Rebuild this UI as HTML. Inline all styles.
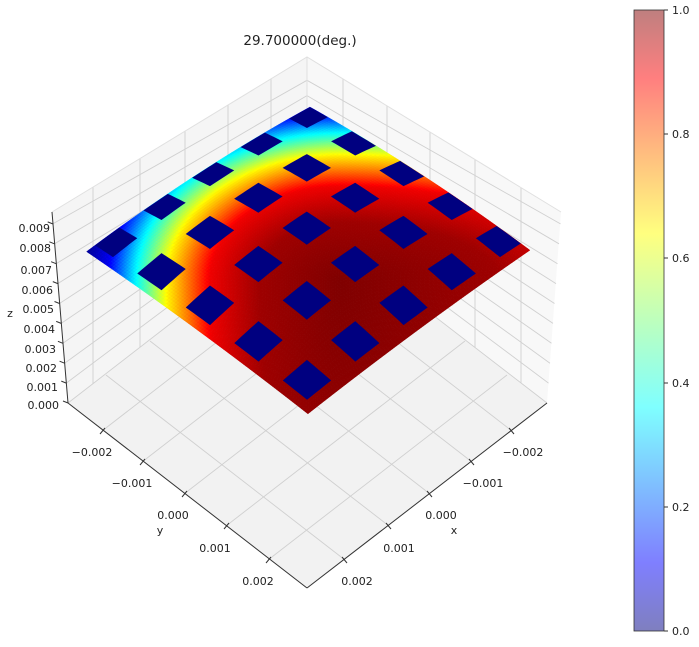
<!DOCTYPE html>
<html><head><meta charset="utf-8"><style>
html,body{margin:0;padding:0;background:#fff;}
svg{display:block;font-family:"DejaVu Sans","Liberation Sans",sans-serif;}
</style></head><body>
<svg id="s" width="699" height="647" viewBox="0 0 699 647" xmlns="http://www.w3.org/2000/svg">
<defs>
<linearGradient id="cb" x1="0" y1="1" x2="0" y2="0">
<stop offset="0" stop-color="#7f7fbf"/>
<stop offset="0.11" stop-color="#7f7fff"/>
<stop offset="0.36" stop-color="#7fffff"/>
<stop offset="0.5" stop-color="#bdffbd"/>
<stop offset="0.64" stop-color="#ffff7f"/>
<stop offset="0.89" stop-color="#ff7f7f"/>
<stop offset="1" stop-color="#bf7f7f"/>
</linearGradient>
</defs>
<polygon points="68,403 307,218 307,57 52,212" fill="#f5f5f5"/>
<polygon points="307,218 547,403 561,212 307,57" fill="#f8f8f8"/>
<polygon points="68,403 307,218 547,403 307,588" fill="#f2f2f2"/>
<g id="grid" stroke="#d0d0d0" stroke-width="0.9" fill="none"></g>
<polyline points="52,212 307,57 561,212" fill="none" stroke="#e0e0e0" stroke-width="1"/>
<line x1="307" y1="57" x2="307" y2="218" stroke="#e0e0e0"/>
<g id="surf"></g>
<g stroke="#333" stroke-width="1" fill="none">
<line x1="68" y1="403" x2="307" y2="588"/>
<line x1="307" y1="588" x2="547" y2="403"/>
<line x1="68" y1="403" x2="52" y2="212"/>
</g>
<g id="ticks" stroke="#333" stroke-width="1"></g>
<g font-size="11" fill="#222">
<text x="300" y="45" font-size="13.5" text-anchor="middle">29.700000(deg.)</text>
<g text-anchor="end">
<text x="50" y="232">0.009</text><text x="51" y="252">0.008</text><text x="52" y="274">0.007</text>
<text x="53" y="294">0.006</text><text x="54" y="313">0.005</text><text x="55" y="333">0.004</text>
<text x="56" y="353">0.003</text><text x="57" y="372">0.002</text><text x="58" y="391">0.001</text>
<text x="59" y="409">0.000</text>
</g>
<text x="10" y="317" text-anchor="middle">z</text>
<g text-anchor="middle">
<text x="92" y="456">−0.002</text><text x="132" y="487">−0.001</text><text x="173" y="519">0.000</text>
<text x="215" y="552">0.001</text><text x="258" y="585">0.002</text>
<text x="160" y="534">y</text>
<text x="523" y="456">−0.002</text><text x="483" y="487">−0.001</text><text x="441" y="519">0.000</text>
<text x="399" y="552">0.001</text><text x="357" y="585">0.002</text>
<text x="454" y="534">x</text>
</g>
</g>
<rect x="634" y="10" width="30" height="621" fill="url(#cb)" stroke="#333" stroke-width="0.8"/>
<g stroke="#333"><line x1="664" y1="10" x2="668" y2="10"/><line x1="664" y1="134" x2="668" y2="134"/><line x1="664" y1="258" x2="668" y2="258"/><line x1="664" y1="383" x2="668" y2="383"/><line x1="664" y1="507" x2="668" y2="507"/><line x1="664" y1="631" x2="668" y2="631"/></g>
<g font-size="11" fill="#222">
<text x="672" y="14">1.0</text><text x="672" y="138">0.8</text><text x="672" y="262">0.6</text>
<text x="672" y="387">0.4</text><text x="672" y="511">0.2</text><text x="672" y="635">0.0</text>
</g>
</svg>
<script>
var NS="http://www.w3.org/2000/svg";
function el(p,tag,a){var e=document.createElementNS(NS,tag);for(var k in a)e.setAttribute(k,a[k]);p.appendChild(e);return e;}
var g=document.getElementById('grid');
var yt=[[102,431],[142,462],[184,494],[226,526],[268,560]];
yt.forEach(function(p){el(g,'line',{x1:p[0],y1:p[1],x2:p[0]+239,y2:p[1]-185});});
var xt=[[512,431],[472,462],[430,494],[389,526],[345,560]];
xt.forEach(function(p){el(g,'line',{x1:p[0],y1:p[1],x2:p[0]-239,y2:p[1]-185});});
[93,140,185,228,271].forEach(function(x){el(g,'line',{x1:x,y1:403-(x-68)*0.774,x2:x,y2:212-(x-52)*0.608});});
[343,387,430,475,521].forEach(function(x){el(g,'line',{x1:x,y1:218+(x-307)*0.771,x2:x,y2:57+(x-307)*0.610});});
for(var k=0;k<=9;k++){
 var ly=403-19.9*k, lx=68-1.7*k, by=218-15.3*k, rx=547+1.5*k;
 el(g,'polyline',{points:lx+','+ly+' 307,'+by+' '+rx+','+ly});
}
var t=document.getElementById('ticks');
yt.forEach(function(p){el(t,'line',{x1:p[0]-2,y1:p[1]+3,x2:p[0]+3,y2:p[1]-3});});
xt.forEach(function(p){el(t,'line',{x1:p[0]+2,y1:p[1]+3,x2:p[0]-3,y2:p[1]-3});});
for(var k=0;k<=9;k++){var y=403-19.9*k,x=68-1.7*k;el(t,'line',{x1:x,y1:y,x2:x-5,y2:y-2});}
function P(s,tt){
 var x=113+194*s+194*tt-1*s*tt, y=240-125*s+140*tt-15*s*tt;
 y+= -5*4*s*(1-s) -5*4*tt*(1-tt) -6*16*s*(1-s)*tt*(1-tt);
 return [x,y];
}
var S0=-0.106,S1=1.045,T0=-0.03,T1=1.11;
var dv=[0,80,130,150,172,205,232,262], vv=[1,0.97,0.89,0.77,0.64,0.36,0.11,0.0];
function jet(v){var r,gg,b;
 r=Math.min(1,Math.max(0,Math.min(4*v-1.5,-4*v+4.5)));
 gg=Math.min(1,Math.max(0,Math.min(4*v-0.5,-4*v+3.5)));
 b=Math.min(1,Math.max(0,Math.min(4*v+0.5,-4*v+2.5)));
 return 'rgb('+Math.round(r*255)+','+Math.round(gg*255)+','+Math.round(b*255)+')';}
function val(x,y){var dx=x-340,dy=y-280;if(dx>0)dx*=0.5;var q=dy<0?1.913:0.09;var d=Math.sqrt(dx*dx+q*dy*dy);
 for(var i=1;i<dv.length;i++){if(d<=dv[i]){var f=(d-dv[i-1])/(dv[i]-dv[i-1]);return vv[i-1]+f*(vv[i]-vv[i-1]);}}return 0;}
var s=document.getElementById('surf');var N=100;
for(var i=0;i<N;i++)for(var j=0;j<N;j++){
 var a0=S0+(S1-S0)*i/N,a1=S0+(S1-S0)*(i+1)/N,b0=T0+(T1-T0)*j/N,b1=T0+(T1-T0)*(j+1)/N;
 var c=P((a0+a1)/2,(b0+b1)/2);var col=jet(val(c[0],c[1]));
 el(s,'polygon',{points:[P(a0,b0),P(a1,b0),P(a1,b1),P(a0,b1)].join(' '),fill:col,stroke:col,'stroke-width':0.5});
}
var h=0.0625;
for(var i=0;i<5;i++)for(var j=0;j<5;j++){
 var cs=i*0.25,ct=j*0.25;
 var a0=Math.max(S0,cs-h),a1=Math.min(S1,cs+h),b0=Math.max(T0,ct-h),b1=Math.min(T1,ct+h);
 var pts=[];var M=6;
 for(var k=0;k<=M;k++)pts.push(P(a0+(a1-a0)*k/M,b0));
 for(var k=0;k<=M;k++)pts.push(P(a1,b0+(b1-b0)*k/M));
 for(var k=M;k>=0;k--)pts.push(P(a0+(a1-a0)*k/M,b1));
 for(var k=M;k>=0;k--)pts.push(P(a0,b0+(b1-b0)*k/M));
 el(s,'polygon',{points:pts.join(' '),fill:'#000080'});
}
</script>
</body></html>
